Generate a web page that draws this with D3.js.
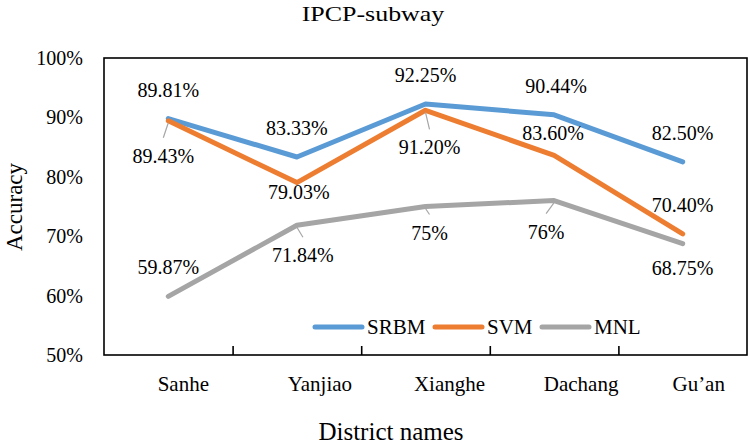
<!DOCTYPE html>
<html>
<head>
<meta charset="utf-8">
<script src="https://cdn.jsdelivr.net/npm/d3@7"></script>
<style>
  html, body { margin: 0; padding: 0; background: #fff; }
  svg { display: block; }
  svg text { font-family: "Liberation Serif", "Times New Roman", serif !important; fill: #000; }
</style>
</head>
<body>
<svg id="chart" width="750" height="446"></svg>
<script>
// ---- data ----
const categories = ["Sanhe", "Yanjiao", "Xianghe", "Dachang", "Gu\u2019an"];
const seriesNames = ["SRBM", "SVM", "MNL"];
const srbm = [0.8981, 0.8333, 0.9225, 0.9044, 0.8250];
const svm  = [0.8943, 0.7903, 0.9120, 0.8360, 0.7040];
const mnl  = [0.5987, 0.7184, 0.75, 0.76, 0.6875];
const srbmLabels = ["89.81%", "83.33%", "92.25%", "90.44%", "82.50%"];
const svmLabels  = ["89.43%", "79.03%", "91.20%", "83.60%", "70.40%"];
const mnlLabels  = ["59.87%", "71.84%", "75%", "76%", "68.75%"];
const yTicks = [0.5, 0.6, 0.7, 0.8, 0.9, 1.0];
const titleText = "IPCP-subway";
const xTitle = "District names";
const yTitle = "Accuracy";

// ---- layout / style (not data) ----
const FONT = "Liberation Serif, Times New Roman, serif";
const colors = ["#5B9BD5", "#ED7D31", "#A5A5A5"];
// label offsets relative to point: [dx, dy of baseline, leader?]
const labelPlacement = [
  [[0,-22,0],[0,-22,0],[0,-22,0],[2,-22,0],[0,-22,0]],
  [[-5,42,1],[2,16,0],[4,44,1],[-1,-15,0],[0,-22,0]],
  [[0,-22,0],[6,37,1],[4,33,1],[-8,38,1],[0,31,0]]
];
const catLabelDx = [15, 23, 24, 27, 16];

const svg = d3.select("#chart");
const L = 104, R = 747, T = 58, B = 355;

const x = d3.scaleBand().domain(categories).range([L, R]);
const y = d3.scaleLinear().domain([0.5, 1.0]).range([B, T]);

// title (slightly wide, as in the reference)
svg.append("text").attr("transform", "translate(373,20.5) scale(1.18,1)").attr("text-anchor", "middle")
  .attr("font-family", FONT).attr("font-size", 22).text(titleText);

// frame
svg.append("rect").attr("x", L).attr("y", T).attr("width", R - L).attr("height", B - T)
  .attr("fill", "none").attr("stroke", "#000").attr("stroke-width", 1.6);

// y axis labels
const yAxis = d3.axisLeft(y).tickValues(yTicks).tickFormat(d3.format(".0%")).tickSize(0).tickPadding(21);
const gy = svg.append("g").attr("transform", `translate(${L},0)`).call(yAxis)
  .attr("font-family", FONT).attr("font-size", 20);
gy.select(".domain").remove();
gy.selectAll("text").attr("font-size", 20).attr("font-family", FONT).attr("fill", "#000");

// x axis: inward ticks at band boundaries
const xb = d3.scaleLinear().domain([0, categories.length]).range([L, R]);
const gxt = svg.append("g").attr("transform", `translate(0,${B})`)
  .call(d3.axisBottom(xb).tickValues(d3.range(1, categories.length)).tickSize(-9).tickFormat(""));
gxt.select(".domain").remove();
gxt.selectAll("line").attr("stroke", "#000").attr("stroke-width", 1.6);

const gx = svg.append("g").attr("transform", `translate(0,${B})`)
  .call(d3.axisBottom(x).tickSize(0).tickPadding(0))
  .attr("font-family", FONT).attr("font-size", 21);
gx.select(".domain").remove();
gx.selectAll("text").attr("font-size", 21).attr("font-family", FONT).attr("fill", "#000")
  .attr("dy", null).attr("y", 36)
  .attr("x", (d, i) => catLabelDx[i]);

// axis titles
svg.append("text").attr("x", 391).attr("y", 440).attr("text-anchor", "middle")
  .attr("font-family", FONT).attr("font-size", 25).text(xTitle);
svg.append("text").attr("transform", "translate(22,207) rotate(-90)").attr("text-anchor", "middle")
  .attr("font-family", FONT).attr("font-size", 23).text(yTitle);

// lines
const allSeries = [srbm, svm, mnl];
const allLabels = [srbmLabels, svmLabels, mnlLabels];
const line = d3.line().x((d, i) => x(categories[i]) + x.bandwidth() / 2).y(d => y(d));

allSeries.forEach((s, k) => {
  svg.append("path").datum(s).attr("d", line).attr("fill", "none")
    .attr("stroke", colors[k]).attr("stroke-width", 5)
    .attr("stroke-linecap", "round").attr("stroke-linejoin", "round");
});

// data labels
allSeries.forEach((s, k) => {
  s.forEach((v, i) => {
    const px = x(categories[i]) + x.bandwidth() / 2, py = y(v);
    const [dx, dy, leader] = labelPlacement[k][i];
    const lx = px + dx, ly = py + dy;
    if (leader) {
      svg.append("line").attr("x1", px).attr("y1", py + 2).attr("x2", lx).attr("y2", ly - 25)
        .attr("stroke", "#A6A6A6").attr("stroke-width", 1.2);
    }
    svg.append("text").attr("x", lx).attr("y", ly).attr("text-anchor", "middle")
      .attr("font-family", FONT).attr("font-size", 20).text(allLabels[k][i]);
  });
});

// legend
const legX = [315, 435, 542];
seriesNames.forEach((n, k) => {
  svg.append("line").attr("x1", legX[k]).attr("x2", legX[k] + 47).attr("y1", 327).attr("y2", 327)
    .attr("stroke", colors[k]).attr("stroke-width", 5).attr("stroke-linecap", "round");
  svg.append("text").attr("x", legX[k] + 52).attr("y", 334).attr("font-size", 21)
    .attr("font-family", FONT).text(n);
});
</script>
</body>
</html>
